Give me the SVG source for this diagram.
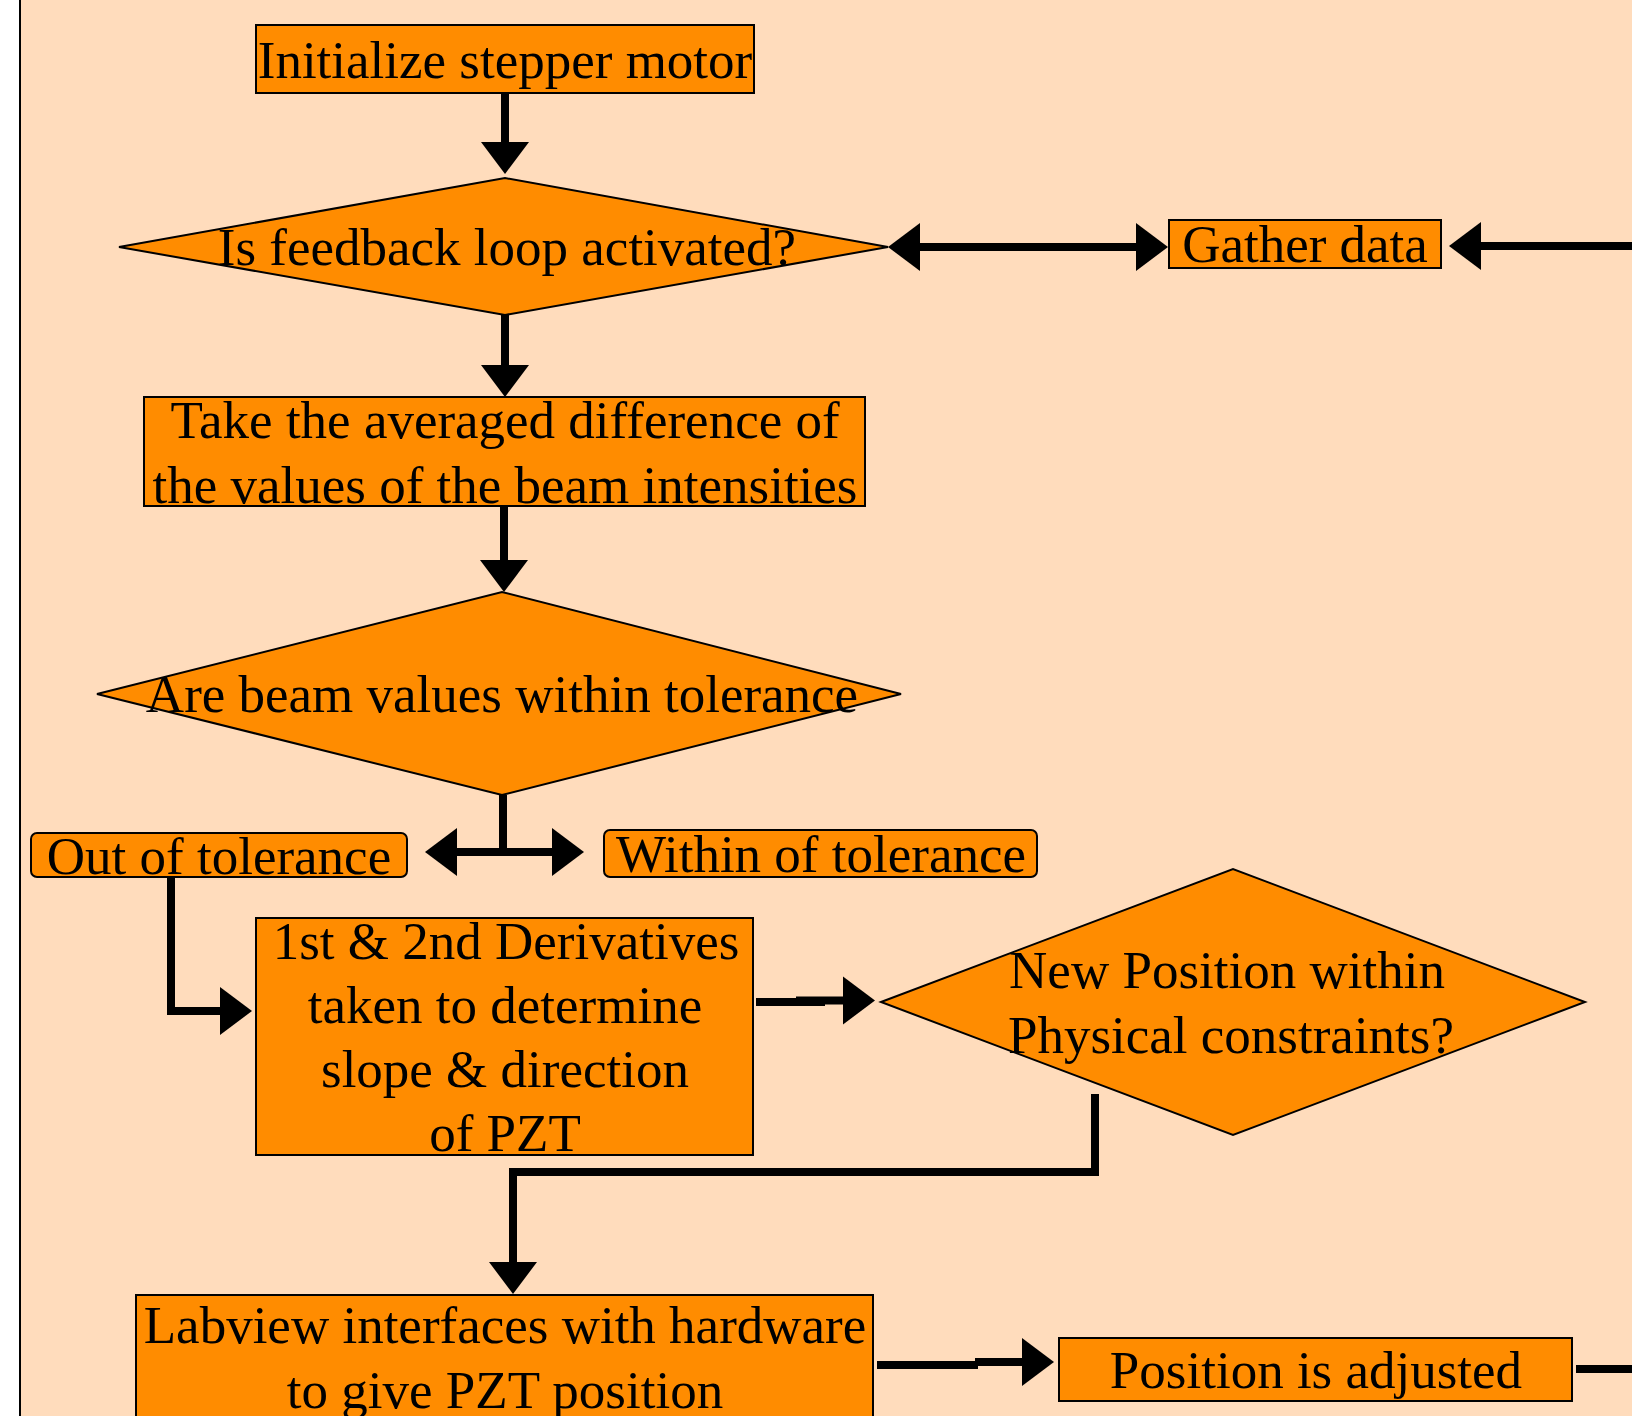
<svg xmlns="http://www.w3.org/2000/svg" width="1632" height="1416" viewBox="0 0 1632 1416">
<style>
.box{fill:#FF8C00;stroke:#000;stroke-width:2}
.t{font-family:"Liberation Serif","Times New Roman",serif;font-size:53px;fill:#000;text-anchor:middle}
.c{fill:none;stroke:#000;stroke-width:8}
</style>
<defs>
<marker id="ah" markerUnits="userSpaceOnUse" markerWidth="34" markerHeight="50" viewBox="0 -25 34 50" refX="1" refY="0" orient="auto-start-reverse">
<path d="M0,-24 L32,0 L0,24 Z" fill="#000"/>
</marker>
</defs>
<rect x="0" y="0" width="1632" height="1416" fill="#fff"/>
<rect x="20" y="0" width="1612" height="1416" fill="#FFDCBC"/>
<line x1="20" y1="0" x2="20" y2="1416" stroke="#000" stroke-width="2"/>

<g id="connectors">
<path class="c" d="M505,93 V143" marker-end="url(#ah)"/>
<path class="c" d="M919,247 H1137" marker-start="url(#ah)" marker-end="url(#ah)"/>
<path class="c" d="M1632,246 H1480" marker-end="url(#ah)"/>
<path class="c" d="M505,314 V366" marker-end="url(#ah)"/>
<path class="c" d="M504,506 V561" marker-end="url(#ah)"/>
<path class="c" d="M503,795 V852"/>
<path class="c" d="M456,852 H553" marker-start="url(#ah)" marker-end="url(#ah)"/>
<path class="c" d="M171,877 V1011 H221" marker-end="url(#ah)"/>
<path class="c" d="M756,1002 H825 M796,1000.5 H844" marker-end="url(#ah)"/>
<path class="c" d="M1095,1094 V1172 H513 V1263" marker-end="url(#ah)"/>
<path class="c" d="M877,1365 H978 M975,1362 H1023" marker-end="url(#ah)"/>
<path class="c" d="M1576,1369 H1632"/>
</g>

<g id="init">
<rect class="box" x="256" y="25" width="498" height="68"/>
<text class="t" x="505" y="78">Initialize stepper motor</text>
</g>
<g id="feedback">
<polygon class="box" points="119,247 505,178 888,247 505,315"/>
<text class="t" x="507" y="265">Is feedback loop activated?</text>
</g>
<g id="gather">
<rect class="box" x="1169" y="220" width="272" height="48"/>
<text class="t" x="1305" y="262">Gather data</text>
</g>
<g id="average">
<rect class="box" x="144" y="397" width="721" height="109"/>
<text class="t" x="505" y="438">Take the averaged difference of</text>
<text class="t" x="505" y="503">the values of the beam intensities</text>
</g>
<g id="tolerance">
<polygon class="box" points="97,694 502,592 901,694 502,795"/>
<text class="t" x="502" y="712">Are beam values within tolerance</text>
</g>
<g id="out">
<rect class="box" x="31" y="833" width="376" height="44" rx="6"/>
<text class="t" x="219" y="874">Out of tolerance</text>
</g>
<g id="within">
<rect class="box" x="604" y="830" width="433" height="47" rx="6"/>
<text class="t" x="821" y="872">Within of tolerance</text>
</g>
<g id="derivatives">
<rect class="box" x="256" y="918" width="497" height="237"/>
<text class="t" x="506" y="959">1st &amp; 2nd Derivatives</text>
<text class="t" x="505" y="1023">taken to determine</text>
<text class="t" x="505" y="1087">slope &amp; direction</text>
<text class="t" x="505" y="1151">of PZT</text>
</g>
<g id="constraints">
<polygon class="box" points="881,1002 1233,869 1585,1002 1233,1135"/>
<text class="t" x="1227" y="988">New Position within</text>
<text class="t" x="1231" y="1053">Physical constraints?</text>
</g>
<g id="labview">
<rect class="box" x="136" y="1295" width="737" height="140"/>
<text class="t" x="505" y="1343">Labview interfaces with hardware</text>
<text class="t" x="505" y="1408">to give PZT position</text>
</g>
<g id="adjusted">
<rect class="box" x="1059" y="1338" width="513" height="63"/>
<text class="t" x="1316" y="1388">Position is adjusted</text>
</g>
</svg>
